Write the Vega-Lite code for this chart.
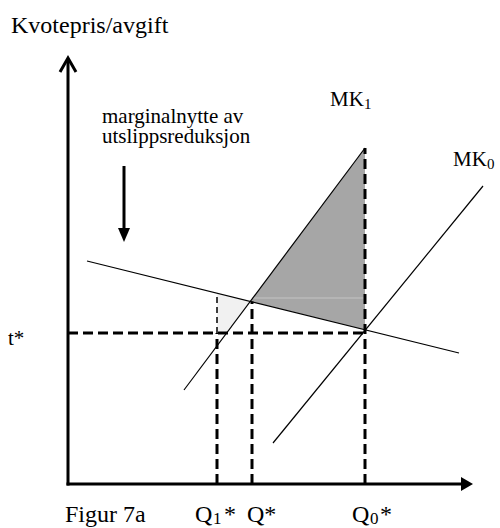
{
  "$schema": "https://vega.github.io/schema/vega-lite/v6.json",
  "width": 500,
  "height": 528,
  "padding": 0,
  "autosize": {"type": "fit", "contains": "padding"},
  "background": "white",
  "config": {"view": {"stroke": null}},
  "encoding": {
    "x": {"field": "x", "type": "quantitative", "scale": {"domain": [-68, 432], "nice": false, "zero": false}, "axis": null},
    "y": {"field": "y", "type": "quantitative", "scale": {"domain": [-44, 484], "nice": false, "zero": false}, "axis": null}
  },
  "layer": [
    {
      "data": {"values": [
        {"x": 182.3, "y": 182.6, "y2": 182.6},
        {"x": 297, "y": 336, "y2": 154.25}
      ]},
      "mark": {"type": "area", "color": "#a6a6a6"},
      "encoding": {"y2": {"field": "y2"}}
    },
    {
      "data": {"values": [
        {"x": 149, "y": 190.85, "y2": 151},
        {"x": 158.6, "y": 188.5, "y2": 151},
        {"x": 182.3, "y": 182.6, "y2": 182.6}
      ]},
      "mark": {"type": "area", "color": "#f1f1f1"},
      "encoding": {"y2": {"field": "y2"}}
    },
    {
      "data": {"values": [
        {"x": 184, "y": 186, "x2": 297, "y2": 186}
      ]},
      "mark": {"type": "rule", "color": "#c4c4c4", "strokeWidth": 1},
      "encoding": {"x2": {"field": "x2"}, "y2": {"field": "y2"}}
    },
    {
      "data": {"values": [
        {"name": "demand", "x": 19, "y": 223, "x2": 391, "y2": 131},
        {"name": "MK1", "x": 116, "y": 94, "x2": 297, "y2": 336},
        {"name": "MK0", "x": 205, "y": 41, "x2": 415, "y2": 298}
      ]},
      "mark": {"type": "rule", "color": "black", "strokeWidth": 1.2},
      "encoding": {"x2": {"field": "x2"}, "y2": {"field": "y2"}}
    },
    {
      "data": {"values": [
        {"name": "t*", "x": 0, "y": 151, "x2": 297, "y2": 151},
        {"name": "Q1*", "x": 149, "y": 0, "x2": 149, "y2": 151},
        {"name": "Q*", "x": 184, "y": 0, "x2": 184, "y2": 182.6},
        {"name": "Q0*", "x": 297, "y": 0, "x2": 297, "y2": 336}
      ]},
      "mark": {"type": "rule", "color": "black", "strokeWidth": 3, "strokeDash": [10, 5]},
      "encoding": {"x2": {"field": "x2"}, "y2": {"field": "y2"}}
    },
    {
      "data": {"values": [
        {"name": "Q1* upper", "x": 149, "y": 151, "x2": 149, "y2": 190}
      ]},
      "mark": {"type": "rule", "color": "black", "strokeWidth": 1.5, "strokeDash": [6, 4]},
      "encoding": {"x2": {"field": "x2"}, "y2": {"field": "y2"}}
    },
    {
      "data": {"values": [
        {"name": "y-axis", "x": 0, "y": -1.5, "x2": 0, "y2": 425},
        {"name": "x-axis", "x": -1.5, "y": 0, "x2": 396, "y2": 0},
        {"name": "arrow shaft", "x": 56, "y": 318, "x2": 56, "y2": 255}
      ]},
      "mark": {"type": "rule", "color": "black", "strokeWidth": 3},
      "encoding": {"x2": {"field": "x2"}, "y2": {"field": "y2"}}
    },
    {
      "data": {"values": [
        {"x": -8, "y": 412, "o": 1},
        {"x": 0, "y": 426, "o": 2},
        {"x": 8, "y": 412, "o": 3}
      ]},
      "mark": {"type": "line", "color": "black", "strokeWidth": 3, "strokeJoin": "miter"},
      "encoding": {"order": {"field": "o"}}
    },
    {
      "data": {"values": [
        {"x": 393, "y": 7, "y2": -7},
        {"x": 405, "y": 0, "y2": 0}
      ]},
      "mark": {"type": "area", "color": "black"},
      "encoding": {"y2": {"field": "y2"}}
    },
    {
      "data": {"values": [
        {"y": 256, "x": 50, "x2": 62},
        {"y": 242, "x": 56, "x2": 56}
      ]},
      "mark": {"type": "area", "color": "black", "orient": "horizontal"},
      "encoding": {"x2": {"field": "x2"}}
    },
    {
      "data": {"values": [
        {"label": "Kvotepris/avgift", "x": -57, "y": 451},
        {"label": "Figur 7a", "x": -3, "y": -38},
        {"label": "Q", "x": 127, "y": -38},
        {"label": "*", "x": 156, "y": -38},
        {"label": "Q*", "x": 179, "y": -38},
        {"label": "Q", "x": 284, "y": -38},
        {"label": "*", "x": 312, "y": -38}
      ]},
      "mark": {"type": "text", "font": "'Liberation Serif', 'Times New Roman', serif", "fontSize": 24, "align": "left", "baseline": "alphabetic", "color": "black"},
      "encoding": {"text": {"field": "label"}}
    },
    {
      "data": {"values": [
        {"label": "marginalnytte av", "x": 34, "y": 361},
        {"label": "utslippsreduksjon", "x": 34, "y": 341},
        {"label": "MK", "x": 262, "y": 378},
        {"label": "MK", "x": 385, "y": 318},
        {"label": "t*", "x": -60, "y": 139}
      ]},
      "mark": {"type": "text", "font": "'Liberation Serif', 'Times New Roman', serif", "fontSize": 21, "align": "left", "baseline": "alphabetic", "color": "black"},
      "encoding": {"text": {"field": "label"}}
    },
    {
      "data": {"values": [
        {"label": "1", "x": 296, "y": 375},
        {"label": "0", "x": 419, "y": 315}
      ]},
      "mark": {"type": "text", "font": "'Liberation Serif', 'Times New Roman', serif", "fontSize": 15, "align": "left", "baseline": "alphabetic", "color": "black"},
      "encoding": {"text": {"field": "label"}}
    },
    {
      "data": {"values": [
        {"label": "1", "x": 145, "y": -40},
        {"label": "0", "x": 302, "y": -40}
      ]},
      "mark": {"type": "text", "font": "'Liberation Serif', 'Times New Roman', serif", "fontSize": 17, "align": "left", "baseline": "alphabetic", "color": "black"},
      "encoding": {"text": {"field": "label"}}
    }
  ]
}
